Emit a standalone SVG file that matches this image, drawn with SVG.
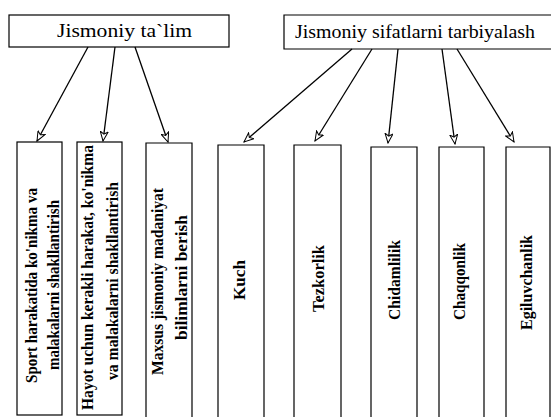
<svg xmlns="http://www.w3.org/2000/svg" width="551" height="417" viewBox="0 0 551 417">
<style>
.box{fill:none;stroke:#000;stroke-width:1.2}
.t{font-family:"Liberation Serif","Times New Roman",serif;fill:#000}
.h{font-size:18px}
.v{font-size:17px;text-anchor:middle;font-weight:bold}
.c{stroke:#000;stroke-width:1.3;fill:none;marker-end:url(#ah)}
</style>
<defs>
<marker id="ah" markerWidth="11" markerHeight="9" refX="10" refY="4.5" orient="auto" markerUnits="userSpaceOnUse">
<path d="M0.5,0.5 L10,4.5 L0.5,8.5 L3,4.5 Z" fill="#fff" stroke="#000" stroke-width="1"/>
</marker>
</defs>
<rect width="551" height="417" fill="#fff"/>

<g id="node-talim">
<rect class="box" x="9" y="15" width="220" height="32"/>
<text class="t h" x="57" y="37" textLength="135" lengthAdjust="spacingAndGlyphs">Jismoniy ta`lim</text>
</g>

<g id="node-sifatlar">
<path class="box" d="M552,15 H284 V49 H552"/>
<text class="t h" x="295" y="38" textLength="240" lengthAdjust="spacingAndGlyphs">Jismoniy sifatlarni tarbiyalash</text>
</g>

<g id="node-sport">
<rect class="box" x="17" y="142" width="45" height="273"/>
<text class="t v" transform="translate(37,285.5) rotate(-90)" textLength="195" lengthAdjust="spacingAndGlyphs">Sport harakatida ko'nikma va</text>
<text class="t v" transform="translate(59,285) rotate(-90)" textLength="170" lengthAdjust="spacingAndGlyphs">malakalarni shakllantirish</text>
</g>

<g id="node-hayot">
<rect class="box" x="77" y="142" width="45" height="273"/>
<text class="t v" transform="translate(93,277.5) rotate(-90)" textLength="265" lengthAdjust="spacingAndGlyphs">Hayot uchun kerakli harakat, ko'nikma</text>
<text class="t v" transform="translate(118,281) rotate(-90)" textLength="198" lengthAdjust="spacingAndGlyphs">va malakalarni shakllantirish</text>
</g>

<g id="node-maxsus">
<path class="box" d="M146,418 V143 H192 V418"/>
<text class="t v" transform="translate(163,281.5) rotate(-90)" textLength="187" lengthAdjust="spacingAndGlyphs">Maxsus jismoniy madaniyat</text>
<text class="t v" transform="translate(187,277.5) rotate(-90)" textLength="125" lengthAdjust="spacingAndGlyphs">bilimlarni berish</text>
</g>

<g id="node-kuch">
<path class="box" d="M218,418 V145 H264 V418"/>
<text class="t v" transform="translate(245,280) rotate(-90)" textLength="40" lengthAdjust="spacingAndGlyphs">Kuch</text>
</g>

<g id="node-tezkorlik">
<path class="box" d="M294,418 V145 H341 V418"/>
<text class="t v" transform="translate(324,278.5) rotate(-90)" textLength="67" lengthAdjust="spacingAndGlyphs">Tezkorlik</text>
</g>

<g id="node-chidamlilik">
<path class="box" d="M371,418 V147 H417 V418"/>
<text class="t v" transform="translate(400,280) rotate(-90)" textLength="80" lengthAdjust="spacingAndGlyphs">Chidamlilik</text>
</g>

<g id="node-chaqqonlik">
<path class="box" d="M439,418 V147 H484 V418"/>
<text class="t v" transform="translate(465,281.5) rotate(-90)" textLength="77" lengthAdjust="spacingAndGlyphs">Chaqqonlik</text>
</g>

<g id="node-egiluvchanlik">
<path class="box" d="M506,418 V147 H550 V418"/>
<text class="t v" transform="translate(532,282.5) rotate(-90)" textLength="95" lengthAdjust="spacingAndGlyphs">Egiluvchanlik</text>
</g>

<g id="connectors">
<line class="c" x1="88" y1="47" x2="37" y2="141"/>
<line class="c" x1="115" y1="47" x2="103" y2="141"/>
<line class="c" x1="135" y1="47" x2="168" y2="142"/>
<line class="c" x1="352" y1="49" x2="244" y2="142"/>
<line class="c" x1="372" y1="49" x2="315" y2="141"/>
<line class="c" x1="398" y1="49" x2="388" y2="143"/>
<line class="c" x1="442" y1="49" x2="455" y2="144"/>
<line class="c" x1="457" y1="49" x2="514" y2="142"/>
</g>
</svg>
